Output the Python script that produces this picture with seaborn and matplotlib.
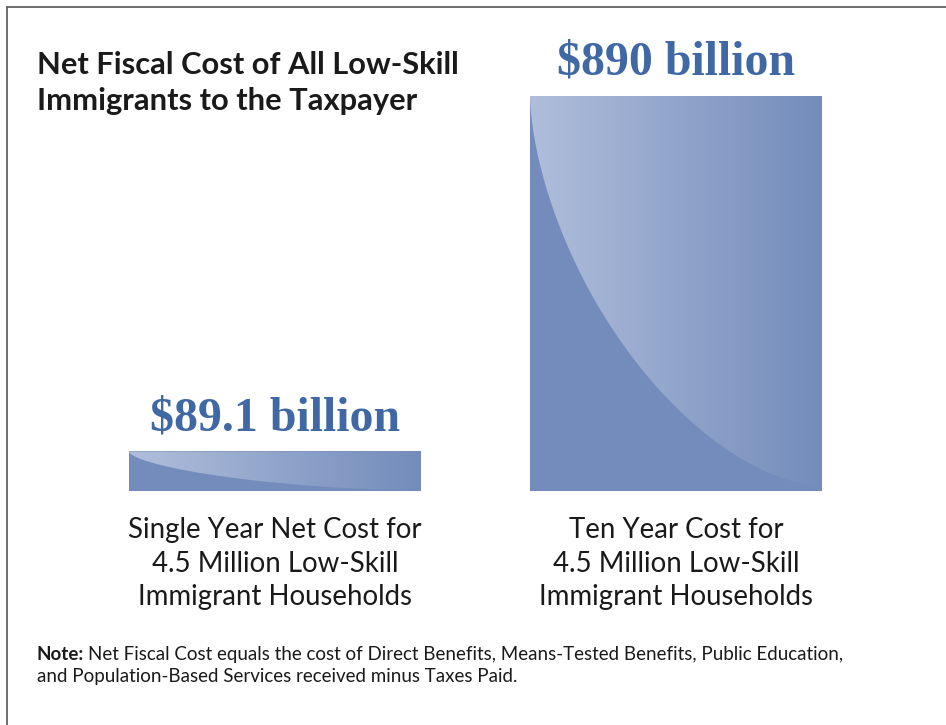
import numpy as np
import pandas as pd
import matplotlib
matplotlib.use("Agg")
import matplotlib.pyplot as plt
import seaborn as sns
from matplotlib.path import Path
from matplotlib.patches import PathPatch
from matplotlib.colors import to_rgb

# Data
categories = [
    "Single Year Net Cost for\n4.5 Million Low-Skill\nImmigrant Households",
    "Ten Year Cost for\n4.5 Million Low-Skill\nImmigrant Households",
]
values = [89.1, 890]
value_labels = ["$89.1 billion", "$890 billion"]

title_lines = ["Net Fiscal Cost of All Low-Skill", "Immigrants to the Taxpayer"]
note_bold = "Note:"
note_lines = ["Net Fiscal Cost equals the cost of Direct Benefits, Means-Tested Benefits, Public Education,",
              "and Population-Based Services received minus Taxes Paid."]

BAR = "#738cbb"
LIGHT = "#b0bedb"
LABEL_BLUE = "#3f68a4"
INK = "#1a1a1a"

sns.set_theme(style="white")
plt.rcParams["font.family"] = ["Lato", "DejaVu Sans"]

W, H = 946, 725
PX = 72 / 100  # points per pixel at dpi 100
fig = plt.figure(figsize=(W / 100, H / 100), dpi=100)
fig.patch.set_facecolor("white")


def fy(py):
    return 1 - py / H


# plotting area: x from 74.5 to 876.5 px, y from 96 px (top) to 491 px (bottom)
ax = fig.add_axes([74.5 / W, (H - 491) / H, 802 / W, 395 / H])
df = pd.DataFrame({"cat": categories, "val": values})
sns.barplot(data=df, x="cat", y="val", color=BAR, saturation=1, width=292 / 401,
            ax=ax, linewidth=0)
ax.set_xlim(-0.5, 1.5)
ax.set_ylim(0, 890)
ax.axis("off")

# glossy highlight: superellipse region anchored at each bar's top-right corner,
# filled with a horizontal light-to-base gradient
c0 = np.array(to_rgb(LIGHT))
c1 = np.array(to_rgb(BAR))
P = 1.65
for patch in list(ax.patches):
    x0, y0 = patch.get_x(), patch.get_y()
    w, h = patch.get_width(), patch.get_height()
    t = np.linspace(0, 1, 256)
    row = c0[None, :] * (1 - t[:, None]) + c1[None, :] * t[:, None]
    img = np.repeat(row[None, :, :], 2, axis=0)
    s = np.linspace(0, 1, 200)
    u = np.cos(s * np.pi / 2) ** (2 / P)
    v = np.sin(s * np.pi / 2) ** (2 / P)
    cx, cy = x0 + w, y0 + h
    ex = cx - 0.98 * w * u - 0.02 * w
    ex[0] = x0
    ey = cy - 0.985 * h * v
    verts = list(zip(ex, ey)) + [(cx, ey[-1]), (cx, cy), (ex[0], ey[0])]
    codes = [Path.MOVETO] + [Path.LINETO] * (len(verts) - 2) + [Path.CLOSEPOLY]
    clip = PathPatch(Path(verts, codes), transform=ax.transData, facecolor="none",
                     edgecolor="none")
    ax.add_patch(clip)
    im = ax.imshow(img, extent=[x0, x0 + w, y0, y0 + h], aspect="auto", zorder=3,
                   interpolation="bilinear")
    im.set_clip_path(clip)

ax.set_xlim(-0.5, 1.5)
ax.set_ylim(0, 890)

# value labels above bars
for i, (v, lab) in enumerate(zip(values, value_labels)):
    ax.annotate(lab, (i, v), xytext=(0, 21 * PX), textcoords="offset points",
                ha="center", va="baseline", fontsize=34.5, fontweight="bold",
                family=["Liberation Serif", "DejaVu Serif"], color=LABEL_BLUE)

# category labels under bars
for i, cat in enumerate(categories):
    for k, line in enumerate(cat.split("\n")):
        ax.annotate(line, (i, 0), xytext=(0, -(47 + 33.5 * k) * PX),
                    textcoords="offset points", ha="center", va="baseline",
                    fontsize=19.9, color=INK)

# title
for k, line in enumerate(title_lines):
    fig.text(37 / W, fy(73.5 + 36.5 * k), line, ha="left", va="baseline",
             fontsize=22.2, fontweight="bold", color=INK)

# note
t1 = fig.text(37 / W, fy(660), note_bold, ha="left", va="baseline", fontsize=13.5,
              fontweight="bold", color=INK)
fig.canvas.draw()
bb = t1.get_window_extent()
fig.text((bb.x1 + 4) / W, fy(660), note_lines[0], ha="left", va="baseline",
         fontsize=13.5, color=INK)
fig.text(37 / W, fy(682), note_lines[1], ha="left", va="baseline",
         fontsize=13.5, color=INK)

# frame lines at left and top
fig.add_artist(plt.Line2D([6.5 / W, 6.5 / W], [0, fy(7)], color="#555555", lw=1.2,
                          transform=fig.transFigure))
fig.add_artist(plt.Line2D([6.5 / W, 1], [fy(7), fy(7)], color="#555555", lw=1.2,
                          transform=fig.transFigure))

fig.savefig("out.png", dpi=100)
